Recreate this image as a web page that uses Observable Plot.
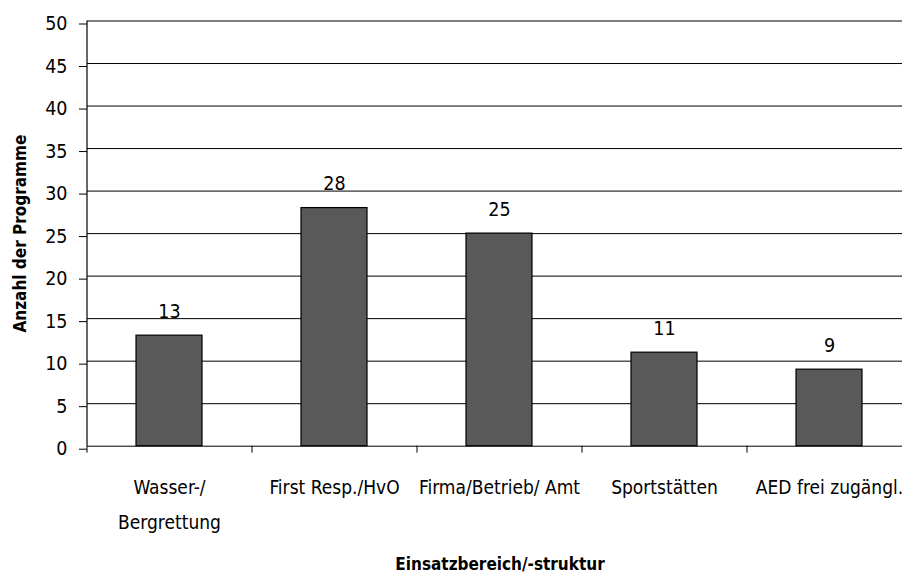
<!DOCTYPE html>
<html>
<head>
<meta charset="utf-8">
<script src="https://cdn.jsdelivr.net/npm/d3@7"></script>
<script src="https://cdn.jsdelivr.net/npm/@observablehq/plot@0.6"></script>
<style>
  html, body { margin: 0; padding: 0; background: #fff; overflow: hidden; }
  svg text { font-stretch: condensed; }
</style>
</head>
<body>
<div id="chart"></div>
<script>
const categories = ["Wasser-/\nBergrettung", "First Resp./HvO", "Firma/Betrieb/ Amt", "Sportstätten", "AED frei zugängl."];
const values = [13, 28, 25, 11, 9];
const yTicks = [0, 5, 10, 15, 20, 25, 30, 35, 40, 45, 50];
const yTitle = "Anzahl der Programme";
const xTitle = "Einsatzbereich/-struktur";

const data = categories.map((c, i) => ({cat: c, value: values[i]}));

const W = 902, H = 574;
const xRange = [87, 912];
const yRange = [445.7, 20.5];
const pInner = 0.6, pOuter = 0.3;
const step = (xRange[1] - xRange[0]) / (categories.length - pInner + 2 * pOuter);
const unitPx = (yRange[0] - yRange[1]) / 50;
const font = "'DejaVu Sans', sans-serif";

const chart = Plot.plot({
  width: W,
  height: H,
  marginLeft: 87,
  marginRight: 0,
  marginTop: 20.5,
  marginBottom: H - 445.7,
  style: {fontFamily: font, fontSize: "19px", color: "#000", background: "#fff", fontStretch: "condensed"},
  x: {domain: categories, range: xRange, paddingInner: pInner, paddingOuter: pOuter},
  y: {domain: [0, 50], range: yRange},
  marks: [
    Plot.gridY(yTicks, {stroke: "#000", strokeOpacity: 1, strokeWidth: 1}),
    Plot.barY(data, {x: "cat", y: "value", fill: "#595959", stroke: "#000", strokeWidth: 1.2}),
    Plot.text(data, {x: "cat", y: "value", text: d => String(d.value), lineAnchor: "bottom", dy: -18, fontSize: 19.5, fill: "#000"}),
    Plot.ruleX(categories, {x: d => d, y1: 0, y2: -7 / unitPx, dx: -step / 2, stroke: "#000", strokeWidth: 1}),
    Plot.ruleX([0], {x: () => categories[0], dx: -step / 2, y1: 0, y2: 50, stroke: "#000", strokeWidth: 1.2}),
    Plot.axisY({ticks: yTicks, tickSize: 8, tickPadding: 12, fontSize: 19.5, dy: 3, label: null, stroke: "#000"}),
    Plot.axisX({tickSize: 0, tickPadding: 23, fontSize: 19, lineHeight: 1.85, label: null}),
    Plot.text([yTitle], {frameAnchor: "left", textAnchor: "middle", dx: -67, rotate: -90, fontSize: 17, fontWeight: "bold", fill: "#000"}),
    Plot.text([xTitle], {frameAnchor: "bottom", textAnchor: "middle", dx: 5, dy: 124, lineAnchor: "bottom", fontSize: 17, fontWeight: "bold", fill: "#000"})
  ]
});
document.getElementById("chart").appendChild(chart);
</script>
</body>
</html>
